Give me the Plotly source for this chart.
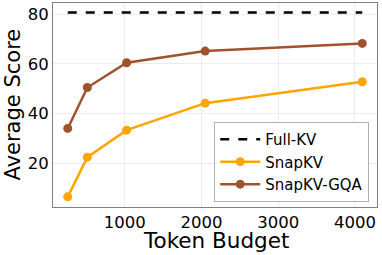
import plotly.graph_objects as go

budgets = [256, 512, 1024, 2048, 4096]
snapkv = [6.4, 22.4, 33.3, 44.2, 52.8]
snapkv_gqa = [34.0, 50.5, 60.5, 65.2, 68.3]
full_kv = 80.8
x_ticks = [1000, 2000, 3000, 4000]
y_ticks = [20, 40, 60, 80]

font = "DejaVu Sans"
fig = go.Figure()
fig.add_trace(go.Scatter(x=[budgets[0], budgets[-1]], y=[full_kv, full_kv], mode="lines",
                         name="Full-KV", line=dict(color="black", width=2.5, dash="dash")))
fig.add_trace(go.Scatter(x=budgets, y=snapkv, mode="lines+markers", name="SnapKV",
                         line=dict(color="#FFA500", width=2.5), marker=dict(size=9, color="#FFA500")))
fig.add_trace(go.Scatter(x=budgets, y=snapkv_gqa, mode="lines+markers", name="SnapKV-GQA",
                         line=dict(color="#A0522D", width=2.5), marker=dict(size=9, color="#A0522D")))

fig.update_layout(
    template="none",
    width=382, height=255,
    margin=dict(l=53, r=5, t=3, b=48, autoexpand=False),
    paper_bgcolor="white", plot_bgcolor="white",
    font=dict(family=font, color="black"),
    legend=dict(x=0.976, y=0.025, xanchor="right", yanchor="bottom",
                bgcolor="white", bordercolor="#b0b0b0", borderwidth=1,
                font=dict(size=15, family=font), itemwidth=40, tracegroupgap=0),
    annotations=[
        dict(text="Average Score", xref="paper", yref="paper", x=0, y=0.5,
             xshift=-40.5, textangle=-90, showarrow=False, xanchor="center", yanchor="middle",
             font=dict(size=21, family=font, color="black")),
        dict(text="Token Budget", xref="paper", yref="paper", x=0.503, y=0,
             yshift=-33, showarrow=False, xanchor="center", yanchor="middle",
             font=dict(size=21.5, family=font, color="black")),
    ],
)
fig.update_xaxes(range=[64, 4288], tickvals=x_ticks, ticktext=[str(v) for v in x_ticks],
                 tickfont=dict(size=16.5), showgrid=True, gridcolor="#ececec", gridwidth=1,
                 showline=True, linecolor="#808080", linewidth=1, mirror=True,
                 ticks="", zeroline=False, automargin=False)
fig.update_yaxes(range=[2.3, 84.6], tickvals=y_ticks, ticktext=[str(v) for v in y_ticks],
                 tickfont=dict(size=16.5), showgrid=True, gridcolor="#ececec", gridwidth=1,
                 showline=True, linecolor="#808080", linewidth=1, mirror=True,
                 ticks="", zeroline=False, automargin=False)

fig.write_html("out.html", config={"displayModeBar": False},
               post_script="document.body.style.margin='0';")
